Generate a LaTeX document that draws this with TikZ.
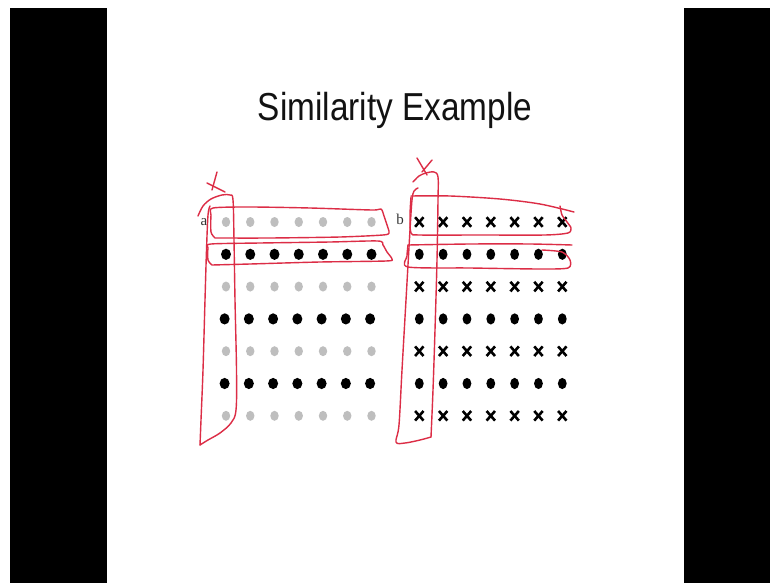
\documentclass[tikz,border=0pt]{standalone}
\usepackage{fontspec}
\usepackage{graphicx}
\setmainfont{Liberation Sans}
\newfontfamily\seriffont{Liberation Serif}
\definecolor{pen}{RGB}{220,45,70}
\definecolor{dotgray}{RGB}{190,190,190}
\definecolor{ink}{RGB}{18,18,18}
\tikzset{
  pen/.style={draw=pen, line width=1.4pt, line cap=round, line join=round},
  xmark/.style={draw=black, line width=2.6pt, line cap=butt},
  lbl/.style={font=\seriffont\fontsize{15}{15}\selectfont, text=black!80, inner sep=0pt}
}
\begin{document}
\begin{tikzpicture}[x=1pt,y=-1pt]
\useasboundingbox (0,0) rectangle (770,583);
\fill[white] (0,0) rectangle (770,583);
% black side bars
\fill[black] (10,8) rectangle (107,583);
\fill[black] (684,8) rectangle (770,583);
% title
\node[anchor=base, inner sep=0pt, text=ink, font=\fontsize{39}{40}\selectfont] (title) at (395,121) {\scalebox{0.855}[1]{Similarity Example}};
% labels
\node[lbl] (la) at (204,222) {a};
\node[lbl] (lb) at (400,219) {b};
% grid a
\foreach \r in {0,...,6}{
  \pgfmathsetmacro\yy{222+32.3*\r}
  \foreach \c in {0,...,6}{
    \ifodd\r
      \pgfmathsetmacro\xx{(\r>2 ? 224.6 : 226)+24.25*\c}
      \fill[black] (\xx,\yy) ellipse (5 and 5.6);
    \else
      \pgfmathsetmacro\xx{226+24.25*\c}
      \fill[dotgray] (\xx,\yy) ellipse (4.2 and 5);
    \fi
  }
}
% grid b
\foreach \r in {0,...,6}{
  \pgfmathsetmacro\yy{222+32.3*\r}
  \foreach \c in {0,...,6}{
    \pgfmathsetmacro\xx{419.3+23.83*\c}
    \ifodd\r
      \fill[black] (\xx,\yy) ellipse (4.4 and 5.6);
    \else
      \draw[xmark] (\xx-4.2,\yy-4.8) -- (\xx+4.2,\yy+4.8);
      \draw[xmark] (\xx-4.2,\yy+4.8) -- (\xx+4.2,\yy-4.8);
    \fi
  }
}
% ---- red annotations, panel a ----
% cross mark above column
\draw[pen] (207,183) -- (225,192);
\draw[pen] (217,172) -- (212,190);
% column loop
\draw[pen] plot[smooth, tension=0.55] coordinates {(198,216) (203,206) (211,199) (222,195) (230,195) (233,200) (234,240) (235,300) (236.5,370) (236,410) (231,423) (220,433) (208,440) (200,445)};
\draw[pen] plot[smooth, tension=0.55] coordinates {(200,445) (201,420) (203,370) (205,300) (206.5,250) (208,215) (210,206)};
% top row loop
\draw[pen] plot[smooth, tension=0.45] coordinates {(215,238) (211,232) (211,215) (213,208) (250,207) (310,208) (372,210) (381,209) (384,216) (388,228) (389,233) (383,235) (340,237) (270,238) (215,238)};
% second row loop
\draw[pen] plot[smooth, tension=0.45] coordinates {(212,265) (208,260) (208,248) (211,244) (260,243) (330,242) (378,241) (383,245) (387,252) (392,259) (386,261) (320,262) (250,264) (212,265)};
% ---- red annotations, panel b ----
\draw[pen] (417,158) -- (427,175);
\draw[pen] (432,160) -- (422,172);
% column loop
\draw[pen] plot[smooth, tension=0.55] coordinates {(413,182) (419,176) (426,173) (434,172) (438,177) (438,200) (437,260) (435,330) (433,390) (431,437)};
\draw[pen] plot[smooth, tension=0.55] coordinates {(418,188) (414,191) (412,200) (410,230) (406,300) (402,370) (399,425) (396,442) (405,443) (420,440) (431,437)};
% top row
\draw[pen] plot[smooth, tension=0.5] coordinates {(411,196) (450,196) (500,199) (540,204) (574,212)};
\draw[pen] plot[smooth, tension=0.45] coordinates {(560,206) (562,215) (567,222) (571,228) (568,233) (545,235) (480,235) (420,235) (411,233) (410,215) (411,197)};
% second row
\draw[pen] plot[smooth, tension=0.5] coordinates {(408,245) (470,244) (530,244) (572,245)};
\draw[pen] plot[smooth, tension=0.45] coordinates {(542,250) (562,252) (570,260) (568,268) (540,269) (470,268) (408,267) (407,256) (408,245)};
\end{tikzpicture}
\end{document}
